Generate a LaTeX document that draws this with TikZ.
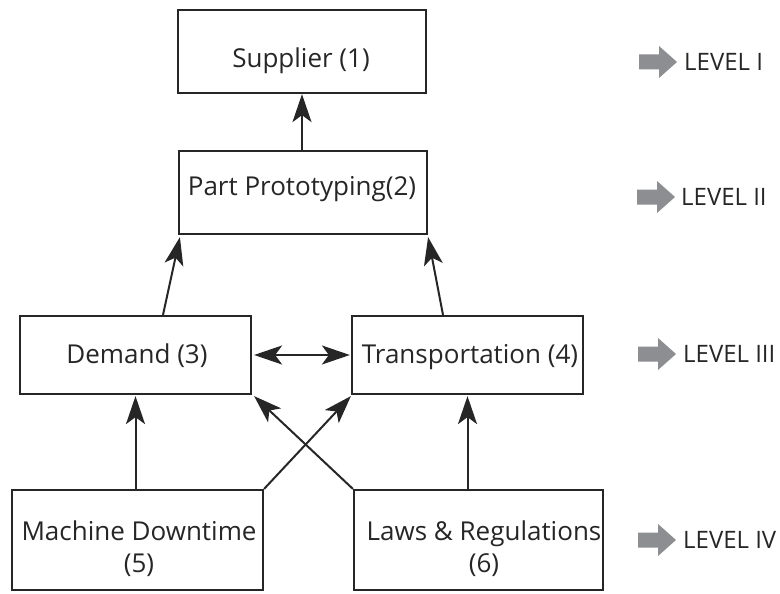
\documentclass[tikz,border=0pt]{standalone}
\usepackage{fontspec}
\setmainfont{Open Sans}
\usetikzlibrary{arrows.meta}
\definecolor{ink}{HTML}{262626}
\definecolor{lvgray}{HTML}{8C8E91}
\tikzset{
  levarrow/.pic={\fill[lvgray] (0,-7.5) -- (20,-7.5) -- (20,-16) -- (38,0) -- (20,16) -- (20,7.5) -- (0,7.5) -- cycle;}
}
\begin{document}
\begin{tikzpicture}[x=1pt,y=-1pt,
  box/.style={draw=ink, line width=2.2pt, inner sep=0pt},
  lbl/.style={font=\fontsize{26}{32}\selectfont, text=ink, inner sep=0pt, anchor=base, align=center},
  conn/.style={draw=ink, line width=2pt, -{Stealth[length=28pt,width=19pt,inset=7pt]}},
  both/.style={draw=ink, line width=2pt, {Stealth[length=28pt,width=19pt,inset=7pt]}-{Stealth[length=28pt,width=19pt,inset=7pt]}},
  lev/.style={font=\fontsize{24}{28}\selectfont, text=ink, inner sep=0pt, anchor=west}]
\useasboundingbox (0,0) rectangle (780,594);
% boxes
\node[box, minimum width=248pt, minimum height=83pt] (sup) at (302,51.5) {};
\node[box, minimum width=248pt, minimum height=83pt] (pp) at (303,192.5) {};
\node[box, minimum width=231pt, minimum height=78pt] (dem) at (135.5,355) {};
\node[box, minimum width=231pt, minimum height=78pt] (tra) at (467.5,355) {};
\node[box, minimum width=251pt, minimum height=100pt] (mac) at (137.5,540) {};
\node[box, minimum width=249pt, minimum height=100pt] (law) at (478.5,540) {};
% texts
\node[lbl] (tsup) at (301,68) {Supplier (1)};
\node[lbl] (tpp) at (302,195) {Part Prototyping(2)};
\node[lbl] (tdem) at (137,363) {Demand (3)};
\node[lbl] (ttra) at (470,363) {Transportation (4)};
\node[lbl] (tmac) at (139,572) {Machine Downtime\\(5)};
\node[lbl] (tlaw) at (484,572) {Laws \& Regulations\\(6)};
% connectors
\draw[conn] (pp.north -| sup.south) -- (sup.south);
\draw[conn] ([xshift=27.5pt]dem.north) -- ([xshift=2pt,yshift=-2pt]pp.south west);
\draw[conn] ([xshift=-24.5pt]tra.north) -- ([yshift=-2pt]pp.south east);
\draw[both] ([xshift=2pt]dem.east) -- ([xshift=-1pt]tra.west);
\draw[conn] (mac.north -| dem.south) -- ([yshift=-1pt]dem.south);
\draw[conn] (law.north -| tra.south) -- ([yshift=-1pt]tra.south);
\draw[conn] (mac.north east) -- ([yshift=-1pt]tra.south west);
\draw[conn] (law.north west) -- ([xshift=2pt,yshift=-1pt]dem.south east);
% levels
\pic at (639,62) {levarrow};
\node[lev] (l1) at (684,62) {LEVEL I};
\pic at (637,197) {levarrow};
\node[lev] (l2) at (681,197) {LEVEL II};
\pic at (638,354) {levarrow};
\node[lev] (l3) at (683,354) {LEVEL III};
\pic at (638,540) {levarrow};
\node[lev] (l4) at (683,540) {LEVEL IV};
\end{tikzpicture}
\end{document}
